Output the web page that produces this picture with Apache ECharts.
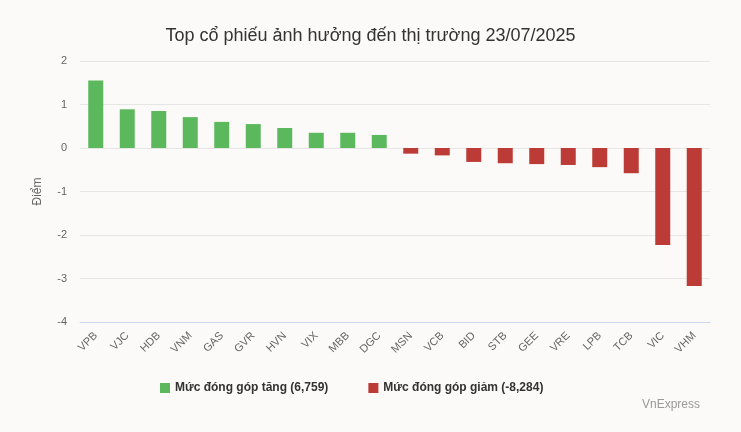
<!DOCTYPE html>
<html>
<head>
<meta charset="utf-8">
<script src="https://cdn.jsdelivr.net/npm/echarts@6/dist/echarts.min.js"></script>
<style>
  html, body { margin: 0; padding: 0; background: #fbfaf8; }
  #chart { width: 741px; height: 432px; }
</style>
</head>
<body>
<div id="chart"></div>
<script>
// ma co phieu
var categories = ['VPB','VJC','HDB','VNM','GAS','GVR','HVN','VIX','MBB','DGC',
                  'MSN','VCB','BID','STB','GEE','VRE','LPB','TCB','VIC','VHM'];
// diem dong gop (doc tu hinh)
var values = [1.55, 0.89, 0.85, 0.71, 0.60, 0.55, 0.46, 0.35, 0.35, 0.30,
              -0.13, -0.17, -0.32, -0.35, -0.37, -0.39, -0.44, -0.58, -2.23, -3.17];
var legendNames = ['Mức đóng góp tăng (6,759)', 'Mức đóng góp giảm (-8,284)'];
var yTicks = { min: -4, max: 2, interval: 1 };

(function (){
var dom = document.getElementById("chart");
var myChart = echarts.init(dom);
var option = null;

var upData = values.map(function (v) { return v >= 0 ? v : '-'; });
var downData = values.map(function (v) { return v < 0 ? v : '-'; });

option = {
    backgroundColor: '#fbfaf8',
    textStyle: { fontFamily: 'Liberation Sans, Arial, sans-serif' },
    title: {
        text: 'Top cổ phiếu ảnh hưởng đến thị trường 23/07/2025',
        left: 'center',
        top: 22,
        textStyle: { fontSize: 18, fontWeight: 'normal', color: '#333' }
    },
    legend: {
        top: 377,
        left: 155,
        icon: 'rect',
        itemWidth: 10,
        itemHeight: 10,
        itemGap: 40,
        textStyle: { fontSize: 12, fontWeight: 'bold', color: '#333' },
        data: legendNames
    },
    graphic: [{
        type: 'text',
        right: 41,
        top: 399,
        style: { text: 'VnExpress', fill: '#999', fontSize: 12, fontFamily: 'Liberation Sans, Arial, sans-serif' }
    }],
    grid: {
        left: 80,
        right: 31,
        top: 61,
        bottom: 110
    },
    xAxis: {
        type: 'category',
        data: categories,
        axisLine: { onZero: false, lineStyle: { color: '#ccd6eb' } },
        axisTick: { show: false },
        axisLabel: { rotate: 45, color: '#666', fontSize: 11, margin: 12 }
    },
    yAxis: {
        type: 'value',
        min: yTicks.min,
        max: yTicks.max,
        interval: yTicks.interval,
        name: 'Điểm',
        nameLocation: 'middle',
        nameGap: 36,
        nameTextStyle: { color: '#666', fontSize: 12 },
        axisLine: { show: false },
        axisTick: { show: false },
        axisLabel: { color: '#666', fontSize: 11, margin: 13 },
        splitLine: { lineStyle: { color: '#e6e6e6' } }
    },
    series: [
        {
            name: legendNames[0],
            type: 'bar',
            stack: 'total',
            barWidth: 15,
            itemStyle: { color: '#5cb85c' },
            data: upData
        },
        {
            name: legendNames[1],
            type: 'bar',
            stack: 'total',
            barWidth: 15,
            itemStyle: { color: '#bc3b36' },
            data: downData
        }
    ]
};
if (option && typeof option === "object") {
    myChart.setOption(option, true);
}
})();
</script>
</body>
</html>
